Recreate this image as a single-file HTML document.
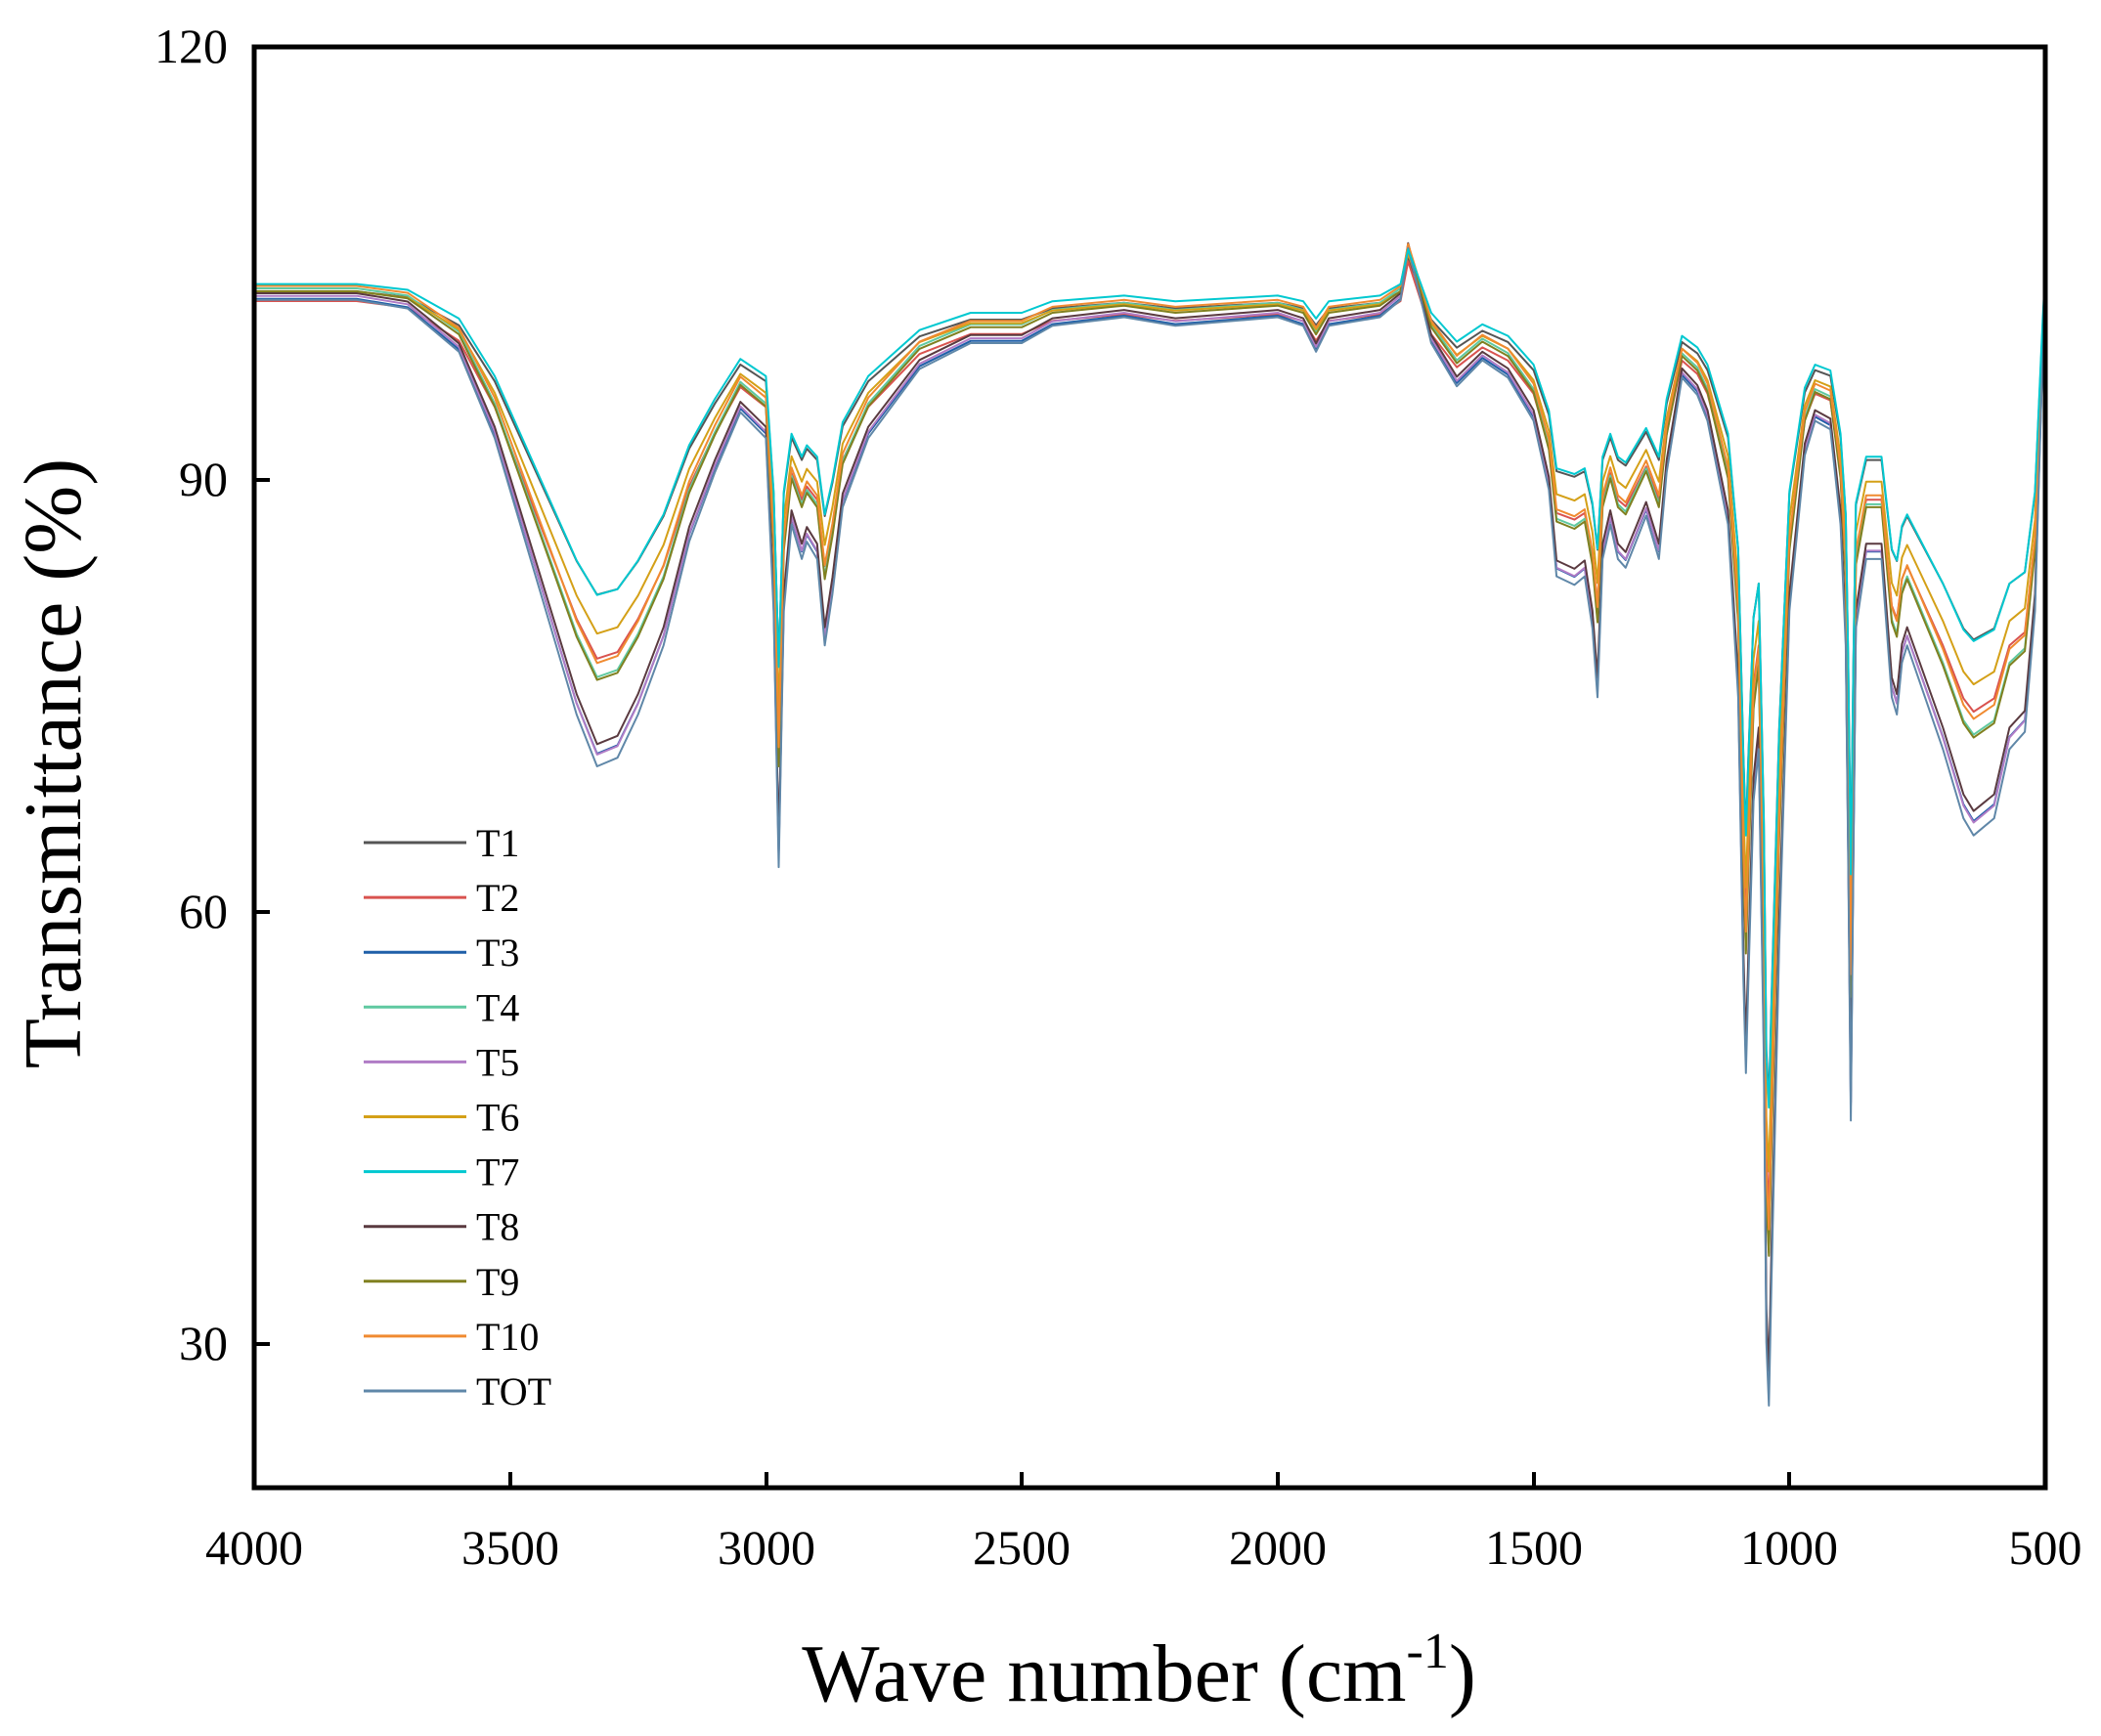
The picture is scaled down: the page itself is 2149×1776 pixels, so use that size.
<!DOCTYPE html>
<html><head><meta charset="utf-8"><style>
html,body{margin:0;padding:0;background:#fff;}
svg{display:block;}
text{font-family:"Liberation Serif",serif;fill:#000;}
</style></head><body>
<svg id="s" width="2149" height="1776" viewBox="0 0 2149 1776" xmlns="http://www.w3.org/2000/svg">
<defs><clipPath id="cp"><rect x="262" y="50" width="1828" height="1470"/></clipPath></defs>
<g id="curves" fill="none" stroke-width="2" stroke-linejoin="round" clip-path="url(#cp)"></g>
<rect x="260" y="48" width="1832" height="1474" fill="none" stroke="#000" stroke-width="5"/>
<g stroke="#000" stroke-width="4">
<line x1="522" y1="1522" x2="522" y2="1506"/><line x1="784" y1="1522" x2="784" y2="1506"/>
<line x1="1045" y1="1522" x2="1045" y2="1506"/><line x1="1307" y1="1522" x2="1307" y2="1506"/>
<line x1="1569" y1="1522" x2="1569" y2="1506"/><line x1="1830" y1="1522" x2="1830" y2="1506"/>
<line x1="260" y1="491" x2="276" y2="491"/><line x1="260" y1="933" x2="276" y2="933"/>
<line x1="260" y1="1375" x2="276" y2="1375"/>
</g>
<g font-size="50" text-anchor="middle">
<text x="260" y="1600">4000</text><text x="522" y="1600">3500</text><text x="784" y="1600">3000</text>
<text x="1045" y="1600">2500</text><text x="1307" y="1600">2000</text><text x="1569" y="1600">1500</text>
<text x="1830" y="1600">1000</text><text x="2092" y="1600">500</text>
</g>
<g font-size="50" text-anchor="end">
<text x="233" y="64">120</text><text x="233" y="507">90</text><text x="233" y="949">60</text><text x="233" y="1391">30</text>
</g>
<text x="1165" y="1740" font-size="84" text-anchor="middle">Wave number (cm<tspan font-size="52" dy="-34">-1</tspan><tspan dy="34">)</tspan></text>
<text transform="translate(82,781) rotate(-90)" font-size="84" text-anchor="middle">Transmittance (%)</text>
<g id="leg" font-size="40"></g>
</svg>
<script>
var base=[[4000,103],[3800,103],[3700,102.5],[3600,100],[3530,95],[3450,87],[3400,82],[3370,79],[3330,76],[3290,76.5],[3250,79],[3200,83],[3150,89],[3100,93],[3050,96.5],[3000,95],[2985,85],[2975,70],[2965,85],[2950,90],[2930,88],[2920,89],[2900,88],[2885,83],[2870,86],[2850,91],[2800,95],[2750,97],[2700,99],[2600,100.5],[2500,100.5],[2440,101.5],[2300,102],[2200,101.5],[2000,102],[1950,101.5],[1925,100],[1900,101.5],[1800,102],[1760,103],[1745,106],[1720,103],[1700,100.5],[1650,98],[1600,99.5],[1550,98.5],[1500,96],[1470,92],[1455,87],[1420,86.5],[1400,87],[1385,84],[1375,80],[1365,88],[1350,90],[1335,88],[1320,87.5],[1300,89],[1280,90.5],[1265,89],[1255,88],[1240,93],[1210,98.5],[1180,97.5],[1160,96],[1120,90],[1100,80],[1090,63],[1085,57],[1080,63],[1070,74],[1060,77],[1050,58],[1045,40],[1040,36],[1035,44],[1020,65],[1000,85],[970,94],[950,96],[920,95.5],[900,90],[890,83],[885,70],[880,54],[875,70],[870,84],[850,88],[820,88],[800,80],[790,79],[780,82],[770,83],[700,77],[660,73],[640,72],[600,73],[570,77],[540,78],[520,85],[505,100],[500,104]];
var series=[["T1","#555555",0.78,0.3],["T2","#d9534f",0.92,-0.5],["T3","#1f5fa8",1.17,-0.6],["T4","#5fc9a0",1.0,0.3],["T5","#b07cc6",1.18,-0.4],["T6","#d4a017",0.88,0.2],["T7","#00c8d0",0.8,0.8],["T8","#5a3a40",1.16,-0.2],["T9","#808020",1.0,0.1],["T10","#f08a30",0.97,0.5],["TOT","#5f87a8",1.2,-0.7]];
function X(w){return 260+(4000-w)*1832/3500;}
function Y(t){return 49+(120-t)*14.73;}
function val(p,s){var dev=p[1]-102;var d=Math.max(dev,-30);var rest=dev-d;
 var extra=rest*(0.1*(s[2]-1)/0.2);
 return 102+d*s[2]+rest+extra+s[3];}
var g=document.getElementById('curves'),lg=document.getElementById('leg'),ns="http://www.w3.org/2000/svg";
var order=[0,1,2,3,4,5,7,8,9,10,6];
order.forEach(function(i){var s=series[i];var d="";
 base.forEach(function(p,j){var t=val(p,s);d+=(j?"L":"M")+X(p[0]).toFixed(1)+" "+Y(t).toFixed(1);});
 var e=document.createElementNS(ns,"path");e.setAttribute("d",d);e.setAttribute("stroke",s[1]);g.appendChild(e);});
series.forEach(function(s,i){var y=862+i*56.1;
 var l=document.createElementNS(ns,"line");l.setAttribute("x1",372);l.setAttribute("x2",477);l.setAttribute("y1",y);l.setAttribute("y2",y);l.setAttribute("stroke",s[1]);l.setAttribute("stroke-width",3);lg.appendChild(l);
 var t=document.createElementNS(ns,"text");t.setAttribute("x",487);t.setAttribute("y",y+14);t.textContent=s[0];lg.appendChild(t);});
</script>
</body></html>
